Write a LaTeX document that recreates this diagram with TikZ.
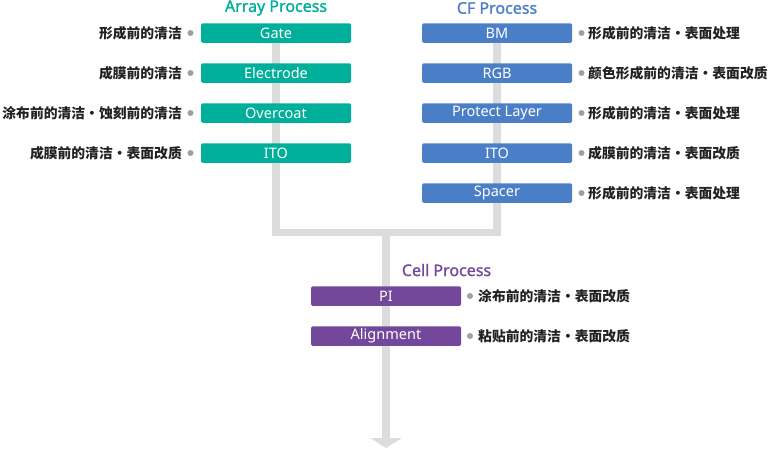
\documentclass[tikz,border=0pt]{standalone}
\usepackage{fontspec}
\setmainfont{Noto Sans}
\newfontfamily\cjk{Noto Sans CJK SC}
\newfontfamily\ttlfont[FakeBold=1.2]{Noto Sans}
\usetikzlibrary{arrows.meta,backgrounds}
\definecolor{teal1}{HTML}{00AF9A}
\definecolor{blue1}{HTML}{4A7FC8}
\definecolor{purp1}{HTML}{734799}
\definecolor{line1}{HTML}{DCDCDC}
\definecolor{dot1}{HTML}{A0A0A0}
\definecolor{txt1}{HTML}{222222}
\begin{document}
\begin{tikzpicture}[x=1pt,y=-1pt,
 box/.style={rounded corners=1.5pt, minimum width=150pt, minimum height=19.5pt, inner sep=0pt, text=white, font=\fontsize{14.5}{14.5}\selectfont},
 arraybox/.style={box, fill=teal1},
 cfbox/.style={box, fill=blue1},
 cellbox/.style={box, fill=purp1},
 lbl/.style={font=\cjk\bfseries\fontsize{13.8}{14}\selectfont, text=txt1, inner sep=0pt},
 dotm/.style={circle, fill=dot1, minimum size=6pt, inner sep=0pt},
 ttl/.style={font=\ttlfont\fontsize{16}{16}\selectfont, inner sep=0pt},
 flow/.style={line1, line width=7.8pt},
]
\useasboundingbox (0,0) rectangle (770,450);
% titles
\node[ttl, text=teal1] (tA) at (276,8) {Array Process};
\node[ttl, text=blue1] (tC) at (497,8) {CF Process};
\node[ttl, text=purp1] (tL) at (446.5,270) {Cell Process};
% array boxes
\node[arraybox] (gate) at (276,33) {Gate};
\node[arraybox] (elec) at (276,73) {Electrode};
\node[arraybox] (over) at (276,113) {Overcoat};
\node[arraybox] (aito) at (276,153) {ITO};
% cf boxes
\node[cfbox] (bm) at (497,33) {BM};
\node[cfbox] (rgb) at (497,73) {RGB};
\node[cfbox] (prot) at (497,113) {Protect Layer};
\node[cfbox] (cito) at (497,153) {ITO};
\node[cfbox] (spac) at (497,193) {Spacer};
% cell boxes
\node[cellbox] (pi) at (386,296) {PI};
\node[cellbox] (align) at (386,336) {Alignment};
% left labels
\node[dotm] (d1) at (190.5,33) {};
\node[lbl, anchor=east] (l1) at (182,33) {形成前的清洁};
\node[dotm] (d2) at (190.5,73) {};
\node[lbl, anchor=east] (l2) at (182,73) {成膜前的清洁};
\node[dotm] (d3) at (190.5,113) {};
\node[lbl, anchor=east] (l3) at (182,113) {涂布前的清洁・蚀刻前的清洁};
\node[dotm] (d4) at (190.5,153) {};
\node[lbl, anchor=east] (l4) at (182,153) {成膜前的清洁・表面改质};
% right labels
\node[dotm] (r1) at (581.5,33) {};
\node[lbl, anchor=west] (rl1) at (588,33) {形成前的清洁・表面处理};
\node[dotm] (r2) at (581.5,73) {};
\node[lbl, anchor=west] (rl2) at (588,73) {颜色形成前的清洁・表面改质};
\node[dotm] (r3) at (581.5,113) {};
\node[lbl, anchor=west] (rl3) at (588,113) {形成前的清洁・表面处理};
\node[dotm] (r4) at (581.5,153) {};
\node[lbl, anchor=west] (rl4) at (588,153) {成膜前的清洁・表面改质};
\node[dotm] (r5) at (581.5,193) {};
\node[lbl, anchor=west] (rl5) at (588,193) {形成前的清洁・表面处理};
% cell labels
\node[dotm] (c1) at (470,296) {};
\node[lbl, anchor=west] (cl1) at (478,296) {涂布前的清洁・表面改质};
\node[dotm] (c2) at (470,336) {};
\node[lbl, anchor=west] (cl2) at (478,336) {粘贴前的清洁・表面改质};
% flow lines
\coordinate (jn) at (386,232.5);
\coordinate (fin) at (386,448);
\begin{pgfonlayer}{background}
\draw[flow, line join=miter] (gate.center) |- (jn) -| (bm.center);
\draw[flow, -{Triangle[width=31pt,length=10pt]}] (jn) -- (fin);
\end{pgfonlayer}
\end{tikzpicture}
\end{document}
